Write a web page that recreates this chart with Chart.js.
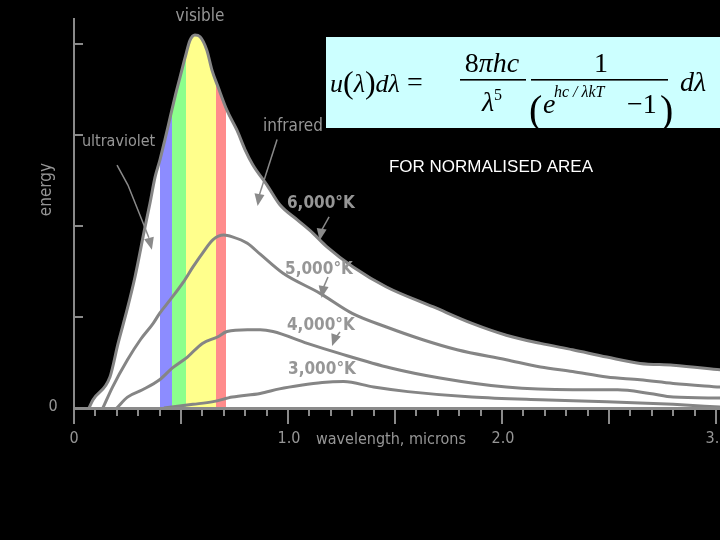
<!DOCTYPE html>
<html>
<head>
<meta charset="utf-8">
<script src="https://cdn.jsdelivr.net/npm/chart.js@4.4.1/dist/chart.umd.min.js"></script>
<style>
html,body{margin:0;padding:0;background:#000;}
#wrap{width:720px;height:540px;position:relative;background:#000;}
</style>
</head>
<body>
<div id="wrap"><canvas id="c" width="720" height="540"></canvas></div>
<script>
// ---- data (wavelength in microns, energy in arbitrary units) ----
const wl6000 = [0.07,0.089,0.168,0.206,0.248,0.285,0.332,0.355,0.379,0.402,0.425,0.449,0.472,0.495,0.519,0.542,0.565,0.589,0.621,0.645,0.673,0.715,0.762,0.799,0.836,0.902,0.963,1.042,1.117,1.182,1.304,1.46,1.68,1.86,2.02,2.18,2.33,2.49,2.645,2.80,3.02];
const en6000 = [0,0.09,0.34,0.71,1.08,1.44,1.99,2.25,2.54,2.73,2.95,3.19,3.42,3.63,3.85,4.04,4.10,4.08,3.93,3.71,3.53,3.27,3.05,2.84,2.67,2.45,2.23,2.07,1.92,1.77,1.55,1.33,1.11,0.93,0.80,0.71,0.64,0.56,0.49,0.47,0.42];
const wl5000 = [0.135,0.18,0.25,0.31,0.37,0.40,0.45,0.51,0.556,0.60,0.65,0.70,0.74,0.81,0.87,0.977,1.15,1.30,1.46,1.63,1.79,2.02,2.18,2.33,2.49,2.645,2.80,3.02];
const en5000 = [0,0.23,0.53,0.75,0.93,1.04,1.19,1.38,1.55,1.70,1.85,1.90,1.88,1.81,1.69,1.48,1.26,1.04,0.89,0.75,0.64,0.53,0.45,0.40,0.34,0.31,0.27,0.23];
const wl4000 = [0.20,0.25,0.32,0.40,0.46,0.53,0.60,0.67,0.715,0.81,0.87,0.93,1.09,1.24,1.48,1.71,2.02,2.33,2.54,2.69,2.80,3.02];
const en4000 = [0,0.12,0.20,0.31,0.44,0.56,0.71,0.78,0.84,0.86,0.86,0.84,0.71,0.60,0.44,0.33,0.23,0.20,0.20,0.16,0.12,0.11];
const wl3000 = [0.42,0.556,0.65,0.74,0.87,0.96,1.06,1.16,1.26,1.40,1.56,1.86,2.18,2.49,2.80,3.02];
const en3000 = [0,0.04,0.07,0.12,0.16,0.21,0.25,0.28,0.29,0.23,0.18,0.12,0.09,0.07,0.04,0.01];

const bandEdges = [0.402,0.46,0.525,0.664,0.708];           // visible band boundaries (microns)
const bandNames = ['violet','green','yellow','red'];
const tempLabels = ['6,000°K','5,000°K','4,000°K','3,000°K'];
const xTickValues = [0,1,2,3];
const xTickLabels = ['0','1.0','2.0','3.0'];
const yTickValues = [1,2,3,4];

// ---- styles ----
const X_MAX = 646/214, Y_MAX = 390/91;
const GREY = '#8a8a8a', TEXT = '#969696', CURVE = '#858585';
const BAND_COLORS = ['#8c8cff','#8cff8c','#ffff8c','#ff8c8c'];
const SANS = "'DejaVu Sans Condensed','DejaVu Sans',sans-serif";
const SERIF = "'Liberation Serif','DejaVu Serif',serif";

function pts(xs, ys){ return xs.map((v,i)=>({x:v,y:ys[i]})); }

function bandFill(context){
  const chart = context.chart, area = chart.chartArea;
  if(!area) return '#ffffff';
  const xs = chart.scales.x, w = area.right-area.left;
  const f = v => Math.min(1, Math.max(0, (xs.getPixelForValue(v)-area.left)/w));
  const g = chart.ctx.createLinearGradient(area.left,0,area.right,0);
  g.addColorStop(0,'#ffffff');
  g.addColorStop(f(bandEdges[0]),'#ffffff');
  for(let i=0;i<BAND_COLORS.length;i++){
    g.addColorStop(f(bandEdges[i]),BAND_COLORS[i]);
    g.addColorStop(f(bandEdges[i+1]),BAND_COLORS[i]);
  }
  g.addColorStop(f(bandEdges[bandEdges.length-1]),'#ffffff');
  g.addColorStop(1,'#ffffff');
  return g;
}

// annotation placements (data units)
const textNotes = [
  {t:'visible', x:0.589, y:4.30, align:'center', font:'17px '+SANS},
  {t:'ultraviolet', x:0.037, y:2.92, align:'left', font:'16px '+SANS},
  {t:'infrared', x:0.883, y:3.09, align:'left', font:'17px '+SANS},
];
const tempPos = [{x:0.995,y:2.25},{x:0.986,y:1.52},{x:0.995,y:0.91},{x:1.0,y:0.42}];
const arrows = [
  {path:[[0.201,2.67],[0.252,2.45],[0.308,2.12],[0.350,1.87]], tip:[0.364,1.74]},
  {path:[[0.949,2.95],[0.866,2.34]], tip:[0.858,2.22]},
  {path:[[1.192,2.10],[1.156,1.95]], tip:[1.148,1.84]},
  {path:[[1.187,1.44],[1.165,1.32]], tip:[1.157,1.21]},
  {path:[[1.243,0.835],[1.218,0.76]], tip:[1.206,0.68]},
];

function drawFormula(ctx){
  ctx.save();
  ctx.fillStyle = '#ccffff';
  ctx.fillRect(326,37,394,91);
  ctx.fillStyle = '#000';
  ctx.textAlign = 'left'; ctx.textBaseline = 'alphabetic';
  const setF = (it,sz)=>{ ctx.font = (it?'italic ':'')+sz+'px '+SERIF; };
  const run = (parts,x,y)=>{ for(const [t,it,sz,dy] of parts){ setF(it,sz); ctx.fillText(t,x,y+(dy||0)); x += ctx.measureText(t).width; } return x; };
  const wid = parts=>{ let w=0; for(const [t,it,sz] of parts){ setF(it,sz); w+=ctx.measureText(t).width; } return w; };
  const center = (parts,cx,y)=>run(parts,cx-wid(parts)/2,y);
  run([['u',1,26],['(',0,32,1],['λ',1,26],[')',0,32,1],['d',1,26],['λ',1,26]],330,92);
  run([['=',0,28]],407,91);
  center([['8',0,28],['πhc',1,28]],492,72);
  ctx.fillRect(460,79,66,1.6);
  center([['λ',1,28],['5',0,16,-11]],492,111);
  center([['1',0,28]],601,72);
  ctx.fillRect(531,79,137,1.6);
  run([['(',0,40]],529,123);
  run([['e',1,28]],543,113);
  run([['hc / λkT',1,16]],554,97);
  run([['−1',0,28]],627,113);
  run([[')',0,40]],660,123);
  run([['d',1,28],['λ',1,28]],680,91);
  ctx.fillStyle = '#ffffff';
  ctx.font = '17px "Liberation Sans", Arial, sans-serif';
  ctx.textAlign = 'center'; ctx.textBaseline = 'middle';
  ctx.fillText('FOR NORMALISED AREA', 491, 167);
  ctx.restore();
}

const overlay = {
  id:'overlay',
  afterDatasetsDraw(chart){
    const {ctx} = chart, xs = chart.scales.x, ys = chart.scales.y;
    const px = v=>xs.getPixelForValue(v), py = v=>ys.getPixelForValue(v);
    const x0 = px(0), y0 = py(0);
    ctx.save();
    ctx.strokeStyle = GREY; ctx.fillStyle = GREY; ctx.lineCap = 'butt';
    // x axis
    ctx.lineWidth = 3;
    ctx.beginPath(); ctx.moveTo(x0-1, y0+0.5); ctx.lineTo(px(X_MAX), y0+0.5); ctx.stroke();
    ctx.lineWidth = 2;
    for(let i=0;i<=30;i++){
      const v = i/10, len = (i%5===0)?14:6, xx = Math.round(px(v));
      ctx.beginPath(); ctx.moveTo(xx, y0+1); ctx.lineTo(xx, y0+2+len); ctx.stroke();
    }
    // y axis
    ctx.beginPath(); ctx.moveTo(x0, y0); ctx.lineTo(x0, py(Y_MAX)); ctx.stroke();
    for(const v of yTickValues){
      const yy = Math.round(py(v));
      ctx.beginPath(); ctx.moveTo(x0, yy); ctx.lineTo(x0+9, yy); ctx.stroke();
    }
    // tick labels
    ctx.fillStyle = TEXT; ctx.font = '16px '+SANS; ctx.textBaseline = 'middle'; ctx.textAlign = 'center';
    xTickValues.forEach((v,i)=>{ ctx.fillText(xTickLabels[i], px(v)+(i===0?0:1), y0+31); });
    ctx.fillText('0', x0-21, y0-1);
    ctx.fillText('wavelength, microns', px(1.481), y0+32);
    // axis title (rotated)
    ctx.save(); ctx.translate(x0-27, py(2.40)); ctx.rotate(-Math.PI/2);
    ctx.font = '17px '+SANS;
    ctx.fillText('energy', 0, 0); ctx.restore();
    // notes
    for(const n of textNotes){ ctx.font = n.font; ctx.textAlign = n.align; ctx.fillText(n.t, px(n.x), py(n.y)); }
    ctx.font = 'bold 17px '+SANS; ctx.textAlign = 'left';
    tempLabels.forEach((t,i)=>ctx.fillText(t, px(tempPos[i].x), py(tempPos[i].y)));
    // arrows
    ctx.lineWidth = 1.5; ctx.strokeStyle = GREY; ctx.fillStyle = GREY;
    for(const a of arrows){
      const p = a.path.map(q=>[px(q[0]),py(q[1])]);
      ctx.beginPath(); ctx.moveTo(p[0][0],p[0][1]);
      for(let k=1;k<p.length;k++) ctx.lineTo(p[k][0],p[k][1]);
      ctx.stroke();
      const last = p[p.length-1], tip = [px(a.tip[0]),py(a.tip[1])];
      const ang = Math.atan2(tip[1]-last[1], tip[0]-last[0]);
      const L = 12, W = 5;
      const bx = tip[0]-L*Math.cos(ang), by = tip[1]-L*Math.sin(ang);
      ctx.beginPath(); ctx.moveTo(tip[0],tip[1]);
      ctx.lineTo(bx+W*Math.sin(ang), by-W*Math.cos(ang));
      ctx.lineTo(bx-W*Math.sin(ang), by+W*Math.cos(ang));
      ctx.closePath(); ctx.fill();
    }
    ctx.restore();
  },
  afterDraw(chart){ drawFormula(chart.ctx); }
};

const lineDs = (label, xs, ys, extra) => Object.assign({
  label, data: pts(xs, ys), borderColor: CURVE, borderWidth: 3, pointRadius: 0,
  fill: false, cubicInterpolationMode: 'monotone'
}, extra||{});

new Chart(document.getElementById('c'), {
  type: 'line',
  data: { datasets: [
    lineDs(tempLabels[0], wl6000, en6000, {fill:'origin', backgroundColor: bandFill}),
    lineDs(tempLabels[1], wl5000, en5000),
    lineDs(tempLabels[2], wl4000, en4000),
    lineDs(tempLabels[3], wl3000, en3000)
  ]},
  options: {
    responsive: false, animation: false, devicePixelRatio: 1,
    layout: { padding: { left: 74, right: 0, top: 18, bottom: 132 } },
    scales: {
      x: { type: 'linear', min: 0, max: X_MAX, display: false },
      y: { type: 'linear', min: 0, max: Y_MAX, display: false }
    },
    plugins: { legend: { display: false }, tooltip: { enabled: false }, filler: { drawTime: 'beforeDatasetsDraw' } }
  },
  plugins: [overlay]
});
</script>
</body>
</html>
